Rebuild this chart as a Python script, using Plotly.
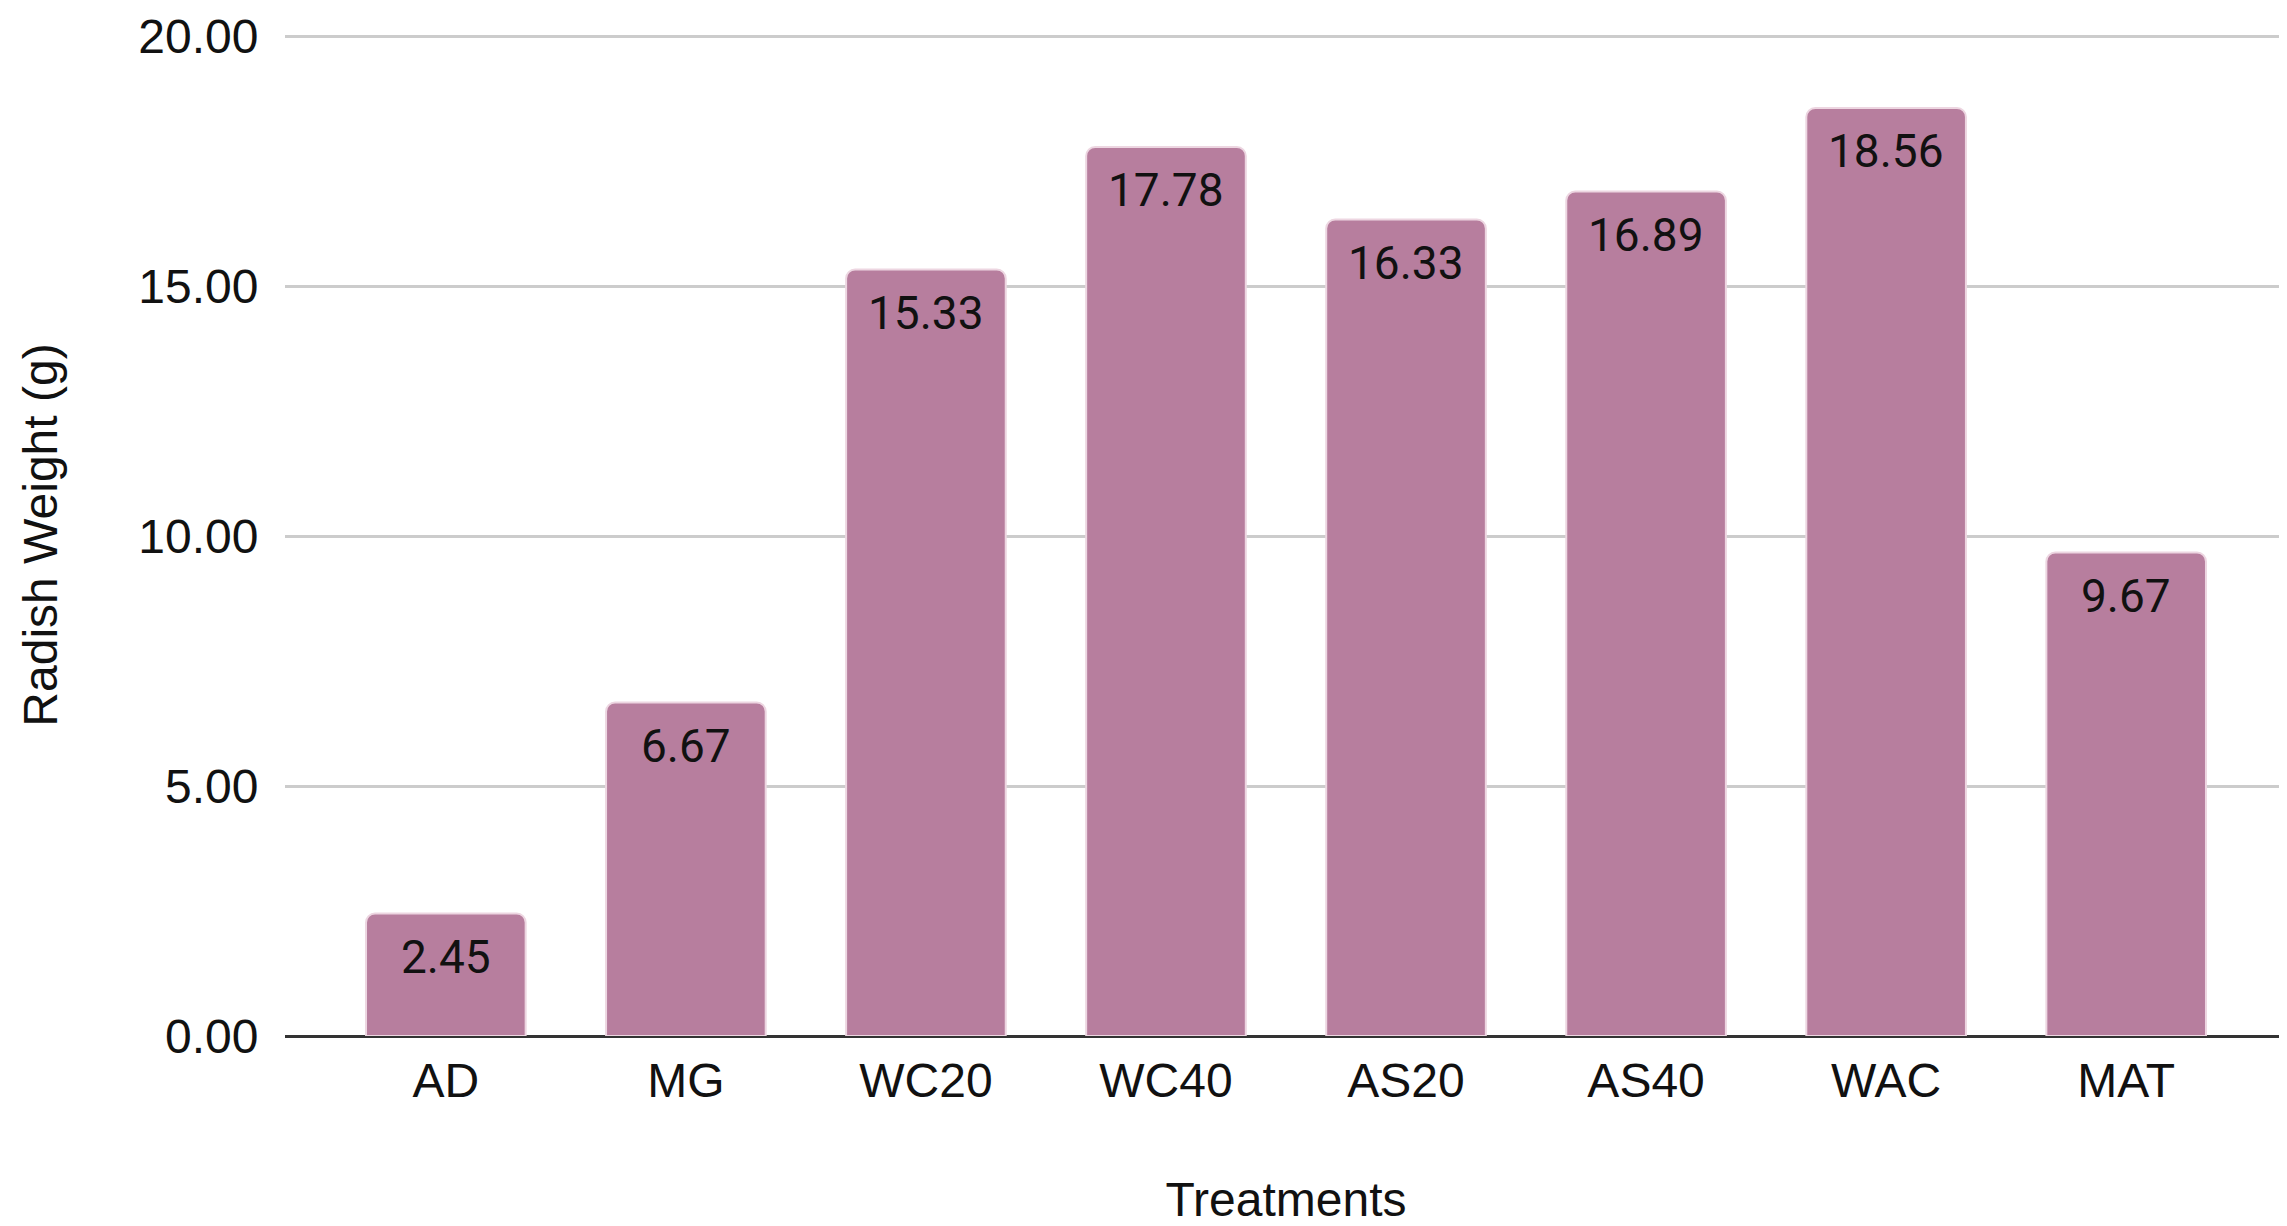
import plotly.graph_objects as go

treatments = ["AD", "MG", "WC20", "WC40", "AS20", "AS40", "WAC", "MAT"]
weights = [2.45, 6.67, 15.33, 17.78, 16.33, 16.89, 18.56, 9.67]
y_ticks = [0, 5, 10, 15, 20]
y_tick_labels = ["0.00", "5.00", "10.00", "15.00", "20.00"]

W, H = 2279, 1218

fig = go.Figure(
    go.Bar(
        x=treatments,
        y=weights,
        width=0.665,
        marker=dict(color="#B77E9E", line=dict(color="#EDD6E1", width=2), cornerradius=9),
        cliponaxis=False,
        hoverinfo="skip",
    )
)

for cat, val in zip(treatments, weights):
    fig.add_annotation(
        x=cat,
        y=val,
        text=f"{val:.2f}",
        showarrow=False,
        yanchor="top",
        xanchor="center",
        yshift=-14,
        font=dict(family="Roboto", size=46, color="#111111"),
    )

fig.update_layout(
    width=W,
    height=H,
    margin=dict(l=277, r=0, t=26, b=190),
    paper_bgcolor="white",
    plot_bgcolor="white",
    showlegend=False,
    bargap=0.335,
    font=dict(family="Liberation Sans, Arial", size=48, color="#111111"),
    xaxis=dict(
        range=[-0.67, 7.67],
        showgrid=False,
        showline=False,
        zeroline=False,
        ticks="outside",
        ticklen=2,
        tickcolor="rgba(0,0,0,0)",
        tickfont=dict(family="Liberation Sans, Arial", size=48, color="#111111"),
        title=dict(text="Treatments", font=dict(family="Liberation Sans, Arial", size=48, color="#111111"), standoff=78),
        fixedrange=True,
    ),
    yaxis=dict(
        range=[0, 20.04],
        tickvals=y_ticks,
        ticktext=y_tick_labels,
        showgrid=True,
        gridcolor="#CCCCCC",
        gridwidth=3,
        zeroline=True,
        zerolinecolor="#333333",
        zerolinewidth=3,
        showline=False,
        ticks="outside",
        ticklen=16,
        tickcolor="rgba(0,0,0,0)",
        tickfont=dict(family="Liberation Sans, Arial", size=48, color="#111111"),
        title=dict(text="Radish Weight (g)", font=dict(family="Liberation Sans, Arial", size=48, color="#111111"), standoff=65),
        fixedrange=True,
    ),
)

fig.write_html("out.html", config={"displayModeBar": False})
